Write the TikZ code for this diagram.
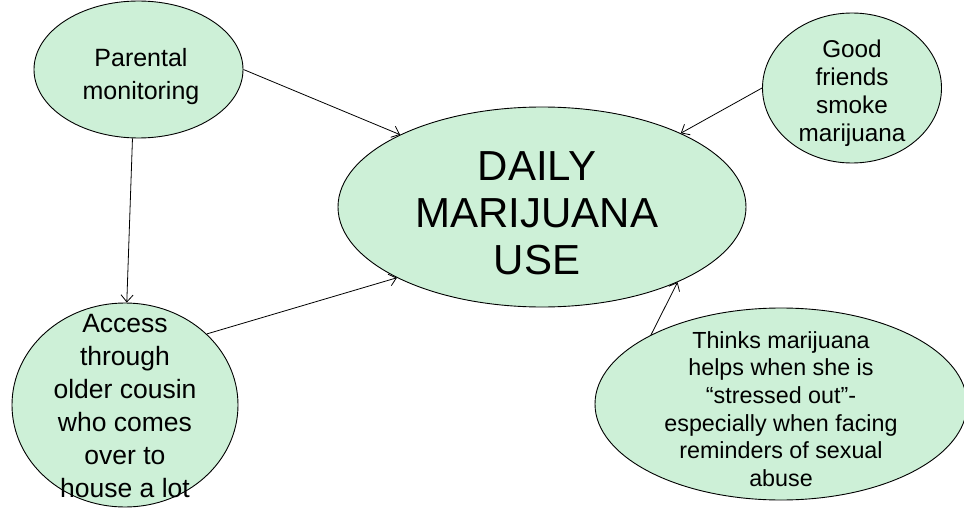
\documentclass[tikz,border=0pt]{standalone}
\usepackage{fontspec}
\setmainfont{Liberation Sans}
\usetikzlibrary{shapes.geometric,arrows.meta}
\definecolor{bubblefill}{RGB}{205,240,215}
\tikzset{
  bubble/.style={ellipse, draw=black, line width=0.9pt, fill=bubblefill,
    inner sep=0pt},
  words/.style={align=center, text=black, inner sep=0pt},
  arr/.style={line width=0.8pt, -{Straight Barb[length=7pt,width=12pt,line width=0.8pt]}},
}
\begin{document}
\begin{tikzpicture}[x=1pt,y=-1pt]
\useasboundingbox (0,0) rectangle (964,508);

% outcome in the middle
\node[bubble, minimum width=408pt, minimum height=200pt] (use) at (542,207) {};
\node[words, font=\fontsize{42}{47}\selectfont] (use-t) at (537,213.5)
  {DAILY\\MARIJUANA\\USE};

% influences
\node[bubble, minimum width=209pt, minimum height=137pt] (parent) at (138.5,69.5) {};
\node[words, font=\fontsize{25}{33}\selectfont] (parent-t) at (141,76.5)
  {Parental\\monitoring};

\node[bubble, minimum width=179pt, minimum height=150pt] (friends) at (852,88) {};
\node[words, font=\fontsize{24.3}{28}\selectfont] (friends-t) at (852,93)
  {Good\\friends\\smoke\\marijuana};

\node[bubble, minimum width=226pt, minimum height=204pt] (cousin) at (125,405) {};
\node[words, font=\fontsize{26.5}{33}\selectfont] (cousin-t) at (125,406)
  {Access\\through\\older cousin\\who comes\\over to\\house a lot};

\node[bubble, minimum width=372pt, minimum height=192pt] (stress) at (781,404) {};
\node[words, font=\fontsize{23.3}{27.7}\selectfont] (stress-t) at (781,409)
  {Thinks marijuana\\helps when she is\\“stressed out”-\\especially when facing\\reminders of sexual\\abuse};

% links
\draw[arr] (parent.east) -- (use.153.9);
\draw[arr] (parent.265.8) -- (cousin.89);
\draw[arr] (cousin.41.7) -- (use.206.4);
\draw[arr] (friends.west) -- (use.28.1);
\draw[arr] (stress.152) -- (use.331.5);
\end{tikzpicture}
\end{document}
